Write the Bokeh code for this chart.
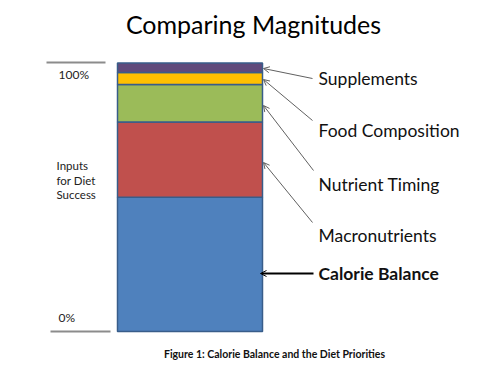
from bokeh.plotting import figure
from bokeh.models import Range1d, Arrow, OpenHead, ColumnDataSource
from bokeh.core.properties import value
from bokeh.embed import file_html
from bokeh.resources import INLINE

# ---- data ----
categories = ["Calorie Balance", "Macronutrients", "Nutrient Timing", "Food Composition", "Supplements"]
shares = [50, 28, 14, 4.5, 3.5]          # percent of diet success
colors = ["#4F81BD", "#C0504D", "#9BBB59", "#FFC000", "#604A7B"]
tick_labels = ["0%", "100%"]
side_label = ["Inputs", "for Diet", "Success"]
title_text = "Comparing Magnitudes"
caption_text = "Figure 1: Calorie Balance and the Diet Priorities"

# ---- layout helpers (picture px -> data) ----
W, H = 464, 363
BOTTOM_PX, TOP_PX = 331, 62.5
PPU = (BOTTOM_PX - TOP_PX) / 100.0

def X(px):
    return px

def Y(py):
    return (BOTTOM_PX - py) / PPU

p = figure(width=W, height=H, output_backend="svg", toolbar_location=None,
           x_range=Range1d(0, W), y_range=Range1d(Y(H), Y(0)),
           min_border=0)
p.axis.visible = False
p.grid.visible = False
p.outline_line_color = None
p.background_fill_color = "white"

bottoms, tops = [], []
acc = 0
for s in shares:
    bottoms.append(acc)
    acc += s
    tops.append(acc)

src = ColumnDataSource(dict(left=[X(117)] * len(shares), right=[X(262)] * len(shares),
                            bottom=bottoms, top=tops, color=colors))
p.quad(left="left", right="right", bottom="bottom", top="top", fill_color="color",
       line_color="#385D8A", line_width=1.5, source=src)

# left reference lines and labels
p.segment(x0=[X(46), X(50)], y0=[tops[-1] + Y(62) - Y(62.5), 0],
          x1=[X(105), X(110)], y1=[tops[-1] + Y(62) - Y(62.5), 0],
          line_color="#8C8C8C", line_width=2)
p.text(x=[X(58), X(58)], y=[tops[-1] + Y(74) - Y(62.5), 0 + Y(317) - Y(331)],
       text=[tick_labels[1], tick_labels[0]], text_font=value("Lato"),
       text_font_size="12px", text_baseline="middle", text_color="#222222")
p.text(x=[X(56)] * 3, y=[Y(165), Y(180), Y(194)], text=side_label,
       text_font=value("Lato"), text_font_size="11.5px", text_baseline="middle",
       text_color="#222222")

# right labels with arrows
label_y = [Y(273), Y(235), Y(184), Y(130), Y(78)]
arrow_start = [(313, 273), (312, 222), (313, 170), (312, 120), (312, 78)]
arrow_end = [(260, 273), (263, 162), (263, 105), (263, 79), (263, 68)]
for i, cat in enumerate(categories):
    (sx, sy), (ex, ey) = arrow_start[i], arrow_end[i]
    bold = i == 0
    p.add_layout(Arrow(x_start=X(sx), y_start=Y(sy), x_end=X(ex), y_end=Y(ey),
                       line_color="#000000" if bold else "#606060",
                       line_width=1.8 if bold else 1,
                       end=OpenHead(size=6, line_color="#000000" if bold else "#606060",
                                    line_width=1)))
    p.text(x=[X(318)], y=[label_y[i]], text=[cat], text_font=value("Lato"),
           text_font_size="17.5px", text_baseline="middle",
           text_font_style="bold" if bold else "normal", text_color="#111111")

# title and caption
p.text(x=[X(253)], y=[Y(23)], text=[title_text], text_font=value("Lato"),
       text_font_size="25px", text_align="center", text_baseline="middle",
       text_color="#000000")
p.text(x=[X(274)], y=[Y(353)], text=[caption_text], text_font=value("Lato"),
       text_font_size="10.5px", text_font_style="bold", text_align="center",
       text_baseline="middle", text_color="#111111")

open("out.html", "w").write(file_html(p, INLINE))
